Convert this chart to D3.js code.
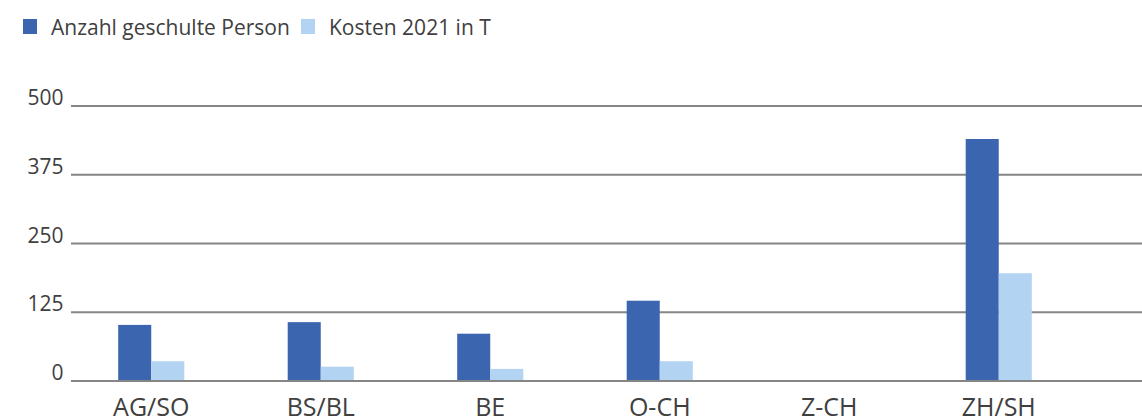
<!DOCTYPE html>
<html>
<head>
<meta charset="utf-8">
<script src="https://cdn.jsdelivr.net/npm/d3@7"></script>
<style>
  body { margin: 0; background: #fff; }
  text { font-family: "Open Sans", sans-serif; fill: #404040; }
</style>
</head>
<body>
<div id="chart"></div>
<script>
// data
let regions = ["AG/SO", "BS/BL", "BE", "O-CH", "Z-CH", "ZH/SH"];
let personen = [102, 107, 86, 146, 0, 440];
let kosten = [36, 26, 22, 36, 0, 196];
let yTicks = [0, 125, 250, 375, 500];
let seriesNames = ["Anzahl geschulte Person", "Kosten 2021 in T"];
let seriesColors = ["#3b66af", "#b2d4f2"];

let width = 1142,
  height = 420;

let svg = d3
  .select("#chart")
  .append("svg")
  .attr("width", width)
  .attr("height", height);

// scales
let xScale = d3
  .scaleBand()
  .domain(regions)
  .range([66.5, 66.5 + 6 * 169.5])
  .paddingInner(0.61)
  .paddingOuter(0.305);

let xInner = d3
  .scaleBand()
  .domain([0, 1])
  .range([0, xScale.bandwidth()]);

let yScale = d3.scaleLinear().domain([0, 500]).range([381, 106]);

// gridlines + tick labels
let grid = svg.append("g");
grid
  .selectAll("line")
  .data(yTicks)
  .enter()
  .append("line")
  .attr("x1", 71)
  .attr("x2", width)
  .attr("y1", (d) => yScale(d))
  .attr("y2", (d) => yScale(d))
  .style("stroke", "#858585")
  .style("stroke-width", 2);

grid
  .selectAll("text")
  .data(yTicks)
  .enter()
  .append("text")
  .attr("x", 63.5)
  .attr("y", (d) => yScale(d) - 1)
  .attr("text-anchor", "end")
  .style("font-size", "21px")
  .text((d) => d);

// bars
let rows = regions.map((r, i) => ({ region: r, values: [personen[i], kosten[i]] }));

let groups = svg
  .append("g")
  .selectAll("g")
  .data(rows)
  .enter()
  .append("g")
  .attr("transform", (d) => "translate(" + xScale(d.region) + ",0)");

groups
  .selectAll("rect")
  .data((d) => d.values.map((v, k) => ({ v: v, k: k })))
  .enter()
  .append("rect")
  .attr("x", (d) => xInner(d.k))
  .attr("width", xInner.bandwidth())
  .attr("y", (d) => yScale(d.v))
  .attr("height", (d) => yScale(0) - 1 - yScale(d.v))
  .style("fill", (d) => seriesColors[d.k]);

// category labels
svg
  .append("g")
  .selectAll("text")
  .data(regions)
  .enter()
  .append("text")
  .attr("x", (d) => xScale(d) + xScale.bandwidth() / 2)
  .attr("y", 416)
  .attr("text-anchor", "middle")
  .style("font-size", "25px")
  .text((d) => d);

// legend
let legendX = [23, 301];
let legend = svg
  .append("g")
  .selectAll("g")
  .data(seriesNames)
  .enter()
  .append("g")
  .attr("transform", (d, i) => "translate(" + legendX[i] + ",0)");

legend
  .append("rect")
  .attr("x", 0)
  .attr("y", 19)
  .attr("width", 14)
  .attr("height", 15)
  .style("fill", (d, i) => seriesColors[i]);

legend
  .append("text")
  .attr("x", 28)
  .attr("y", 35)
  .style("font-size", "21px")
  .text((d) => d);
</script>
</body>
</html>
